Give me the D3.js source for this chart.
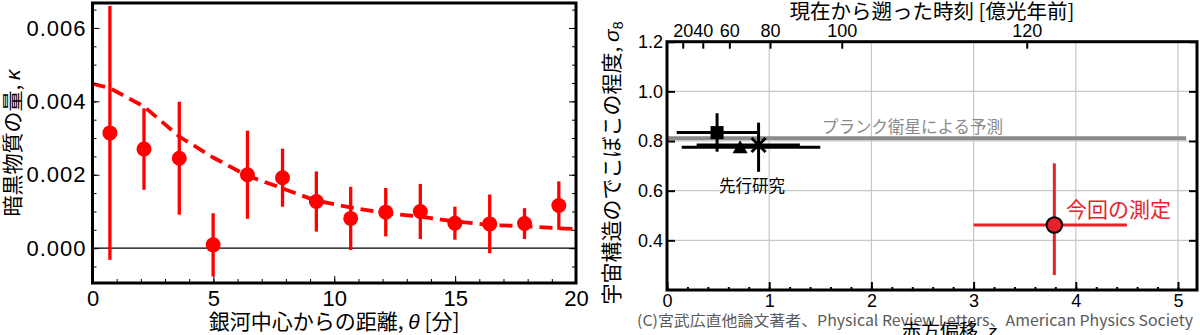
<!DOCTYPE html>
<html>
<head>
<meta charset="utf-8">
<script src="https://cdn.jsdelivr.net/npm/d3@7"></script>
<style>
  body { margin: 0; background: #fff; }
  svg { display: block; }
  .cjk { font-family: "Noto Sans CJK JP", sans-serif; }
  .num { font-family: "Liberation Sans", Arial, sans-serif; }
  .axis path.domain { display: none; }
  .axis line { stroke: #000; }
</style>
</head>
<body>
<svg id="chart" width="1200" height="335"></svg>
<script>
// ---- Left panel: convergence profile around galaxies ----
const thetaArcmin = [0.72, 2.13, 3.59, 4.99, 6.41, 7.86, 9.26, 10.68, 12.13, 13.56, 14.99, 16.43, 17.87, 19.29];
const kappaObs    = [0.00314, 0.00270, 0.00245, 0.00009, 0.00200, 0.00192, 0.00127, 0.00081, 0.00098, 0.00100, 0.00068, 0.00066, 0.00067, 0.00116];
const kappaErr    = [0.00346, 0.00111, 0.00154, 0.00086, 0.00120, 0.00079, 0.00082, 0.00086, 0.00066, 0.00075, 0.00045, 0.00080, 0.00042, 0.00066];
const modelTheta  = [0, 0.72, 2.13, 3.59, 4.99, 6.41, 7.86, 9.26, 10.68, 12.13, 13.56, 14.99, 16.43, 17.87, 19.29, 20];
const modelKappa  = [0.00448, 0.00436, 0.00386, 0.00304, 0.00247, 0.00197, 0.00163, 0.00129, 0.00111, 0.00095, 0.00086, 0.00073, 0.00063, 0.00060, 0.00054, 0.00052];
const thetaTicks  = [0, 5, 10, 15, 20];
const kappaTicks  = [0, 0.002, 0.004, 0.006];

// ---- Right panel: sigma_8 versus redshift ----
const priorShapes   = ["square", "triangle", "cross"];
const priorZ        = [0.49, 0.715, 0.896];
const priorZLo      = [0.095, 0.144, 0.29];
const priorZHi      = [0.89, 1.50, 1.30];
const priorSigma    = [0.834, 0.775, 0.784];
const priorSigmaLo  = [0.757, null, 0.676];
const priorSigmaHi  = [0.912, null, 0.874];
const thisZ         = [3.79];
const thisZRange    = [3.0, 4.5];
const thisSigma     = [0.462];
const thisSigmaRange = [0.26, 0.71];
const planckSigma8  = 0.811;
const planckZRange  = [0, 5.08];
const lookbackLabels = [20, 40, 60, 80, 100, 120];
const lookbackZ      = [0.154, 0.35, 0.61, 1.008, 1.71, 3.52];
const zTicks         = [0, 1, 2, 3, 4, 5];
const sigmaTicks     = [0.4, 0.6, 0.8, 1.0, 1.2];

const svg = d3.select("#chart");
const RED = "#ff0000";

// ================= Left panel =================
const L = { left: 92.5, right: 576, top: 3, bottom: 283 };
const xL = d3.scaleLinear().domain([0, 20]).range([L.left, L.right]);
const yL = d3.scaleLinear().domain([-0.00095, 0.00668]).range([L.bottom, L.top]);
const gL = svg.append("g");

// zero line
gL.append("line")
  .attr("x1", xL(0)).attr("x2", xL(20))
  .attr("y1", yL(0)).attr("y2", yL(0))
  .attr("stroke", "#000").attr("stroke-width", 1.2);

// model curve
gL.append("path")
  .datum(modelTheta.map((t, i) => [t, modelKappa[i]]))
  .attr("d", d3.line().x(d => xL(d[0])).y(d => yL(d[1])))
  .attr("fill", "none").attr("stroke", RED)
  .attr("stroke-width", 3.8).attr("stroke-dasharray", "13,7");

// error bars and points
const pts = thetaArcmin.map((t, i) => ({ t, k: kappaObs[i], e: kappaErr[i] }));
gL.selectAll("line.err").data(pts).join("line")
  .attr("class", "err")
  .attr("x1", d => xL(d.t)).attr("x2", d => xL(d.t))
  .attr("y1", d => yL(d.k - d.e)).attr("y2", d => yL(d.k + d.e))
  .attr("stroke", RED).attr("stroke-width", 3.3);
gL.selectAll("circle.pt").data(pts).join("circle")
  .attr("class", "pt")
  .attr("cx", d => xL(d.t)).attr("cy", d => yL(d.k)).attr("r", 7.5)
  .attr("fill", RED);

// axes (ticks pointing inward)
const kMinor = d3.range(-1, 14).map(i => i * 0.0005);
const tMinor = d3.range(0, 21);
gL.append("g").attr("class", "axis").attr("transform", `translate(0,${L.bottom})`)
  .call(d3.axisBottom(xL).tickValues(tMinor).tickSize(-4).tickFormat(""));
gL.append("g").attr("class", "axis num").attr("transform", `translate(0,${L.bottom})`)
  .call(d3.axisBottom(xL).tickValues(thetaTicks).tickSize(-7).tickPadding(7).tickFormat(d3.format("d")))
  .call(g => g.selectAll("text").attr("font-size", 22).attr("fill", "#000").attr("font-family", "Liberation Sans"));
gL.append("g").attr("class", "axis").attr("transform", `translate(${L.left},0)`)
  .call(d3.axisLeft(yL).tickValues(kMinor).tickSize(-4).tickFormat(""));
gL.append("g").attr("class", "axis num").attr("transform", `translate(${L.left},0)`)
  .call(d3.axisLeft(yL).tickValues(kappaTicks).tickSize(-7).tickPadding(6).tickFormat(d3.format(".3f")))
  .call(g => g.selectAll("text").attr("font-size", 22).attr("fill", "#000")
    .attr("letter-spacing", 1).attr("font-family", "Liberation Sans"));
gL.append("g").attr("class", "axis").attr("transform", `translate(${L.right},0)`)
  .call(d3.axisRight(yL).tickValues(kMinor).tickSize(-4).tickFormat(""));
gL.append("g").attr("class", "axis").attr("transform", `translate(${L.right},0)`)
  .call(d3.axisRight(yL).tickValues(kappaTicks).tickSize(-7).tickFormat(""));

// frame
gL.append("rect")
  .attr("x", L.left).attr("y", L.top)
  .attr("width", L.right - L.left).attr("height", L.bottom - L.top)
  .attr("fill", "none").attr("stroke", "#000").attr("stroke-width", 3);

// axis titles
const xtL = gL.append("text").attr("class", "cjk")
  .attr("x", (L.left + L.right) / 2).attr("y", 329)
  .attr("text-anchor", "middle").attr("font-size", 21);
xtL.append("tspan").text("銀河中心からの距離, ");
xtL.append("tspan").attr("font-style", "italic").attr("font-family", "Liberation Sans").text("θ");
xtL.append("tspan").text(" [分]");

const ytL = gL.append("text").attr("class", "cjk")
  .attr("transform", `translate(20,${(L.top + L.bottom) / 2}) rotate(-90)`)
  .attr("text-anchor", "middle").attr("font-size", 21);
ytL.append("tspan").text("暗黒物質の量, ");
ytL.append("tspan").attr("font-style", "italic").attr("font-family", "Liberation Sans").text("κ");

// ================= Right panel =================
const R = { left: 667, right: 1197, top: 41.7, bottom: 290 };
const xR = d3.scaleLinear().domain([0, 5.186]).range([R.left, R.right]);
const yR = d3.scaleLinear().domain([0.2, 1.2]).range([R.bottom, R.top]);
const gR = svg.append("g");

// grid
gR.selectAll("line.vgrid").data(zTicks.filter(z => z > 0)).join("line")
  .attr("class", "vgrid")
  .attr("x1", d => xR(d)).attr("x2", d => xR(d))
  .attr("y1", R.top).attr("y2", R.bottom)
  .attr("stroke", "#c8c8c8").attr("stroke-width", 1.2);
gR.selectAll("line.hgrid").data(sigmaTicks.filter(s => s < 1.2)).join("line")
  .attr("class", "hgrid")
  .attr("x1", R.left).attr("x2", R.right)
  .attr("y1", d => yR(d)).attr("y2", d => yR(d))
  .attr("stroke", "#c8c8c8").attr("stroke-width", 1.2);

// Planck prediction
gR.append("line")
  .attr("x1", xR(planckZRange[0])).attr("x2", xR(planckZRange[1]))
  .attr("y1", yR(planckSigma8)).attr("y2", yR(planckSigma8))
  .attr("stroke", "#8a8a8a").attr("stroke-width", 4);
gR.append("text").attr("class", "cjk")
  .attr("x", 822).attr("y", yR(planckSigma8) - 5)
  .attr("font-size", 16.5).attr("fill", "#8a8a8a")
  .text("プランク衛星による予測");

// previous measurements
const prior = priorShapes.map((s, i) => ({
  s, z: priorZ[i], zlo: priorZLo[i], zhi: priorZHi[i],
  v: priorSigma[i], vlo: priorSigmaLo[i], vhi: priorSigmaHi[i]
}));
gR.selectAll("line.pzerr").data(prior).join("line")
  .attr("class", "pzerr")
  .attr("x1", d => xR(d.zlo)).attr("x2", d => xR(d.zhi))
  .attr("y1", d => yR(d.v)).attr("y2", d => yR(d.v))
  .attr("stroke", "#000").attr("stroke-width", 3);
gR.selectAll("line.pserr").data(prior.filter(d => d.vlo !== null)).join("line")
  .attr("class", "pserr")
  .attr("x1", d => xR(d.z)).attr("x2", d => xR(d.z))
  .attr("y1", d => yR(d.vlo)).attr("y2", d => yR(d.vhi))
  .attr("stroke", "#000").attr("stroke-width", 3);
prior.forEach(d => {
  const cx = xR(d.z), cy = yR(d.v);
  if (d.s === "square") {
    gR.append("rect").attr("x", cx - 6.5).attr("y", cy - 6.5)
      .attr("width", 13).attr("height", 13).attr("fill", "#000");
  } else if (d.s === "triangle") {
    gR.append("path")
      .attr("d", `M${cx},${cy - 7}L${cx + 7.5},${cy + 6}L${cx - 7.5},${cy + 6}Z`)
      .attr("fill", "#000");
  } else {
    gR.append("path")
      .attr("d", `M${cx - 7},${cy - 7}L${cx + 7},${cy + 7}M${cx + 7},${cy - 7}L${cx - 7},${cy + 7}`)
      .attr("stroke", "#000").attr("stroke-width", 3);
  }
});
gR.append("text").attr("class", "cjk")
  .attr("x", 752).attr("y", 192)
  .attr("text-anchor", "middle").attr("font-size", 16.5).attr("fill", "#000")
  .text("先行研究");

// this measurement
const RED2 = "#e8202a";
gR.append("line")
  .attr("x1", xR(thisZRange[0])).attr("x2", xR(thisZRange[1]))
  .attr("y1", yR(thisSigma[0])).attr("y2", yR(thisSigma[0]))
  .attr("stroke", RED2).attr("stroke-width", 3);
gR.append("line")
  .attr("x1", xR(thisZ[0])).attr("x2", xR(thisZ[0]))
  .attr("y1", yR(thisSigmaRange[0])).attr("y2", yR(thisSigmaRange[1]))
  .attr("stroke", RED2).attr("stroke-width", 3);
gR.append("circle")
  .attr("cx", xR(thisZ[0])).attr("cy", yR(thisSigma[0])).attr("r", 7.8)
  .attr("fill", RED2).attr("stroke", "#000").attr("stroke-width", 2);
gR.append("text").attr("class", "cjk")
  .attr("x", 1066).attr("y", 217)
  .attr("font-size", 21).attr("fill", RED2)
  .text("今回の測定");

// axes
const zMinor = d3.range(0, 26).map(i => i * 0.2);
gR.append("g").attr("class", "axis").attr("transform", `translate(0,${R.bottom})`)
  .call(d3.axisBottom(xR).tickValues(zMinor).tickSize(-3).tickFormat(""));
gR.append("g").attr("class", "axis").attr("transform", `translate(0,${R.bottom})`)
  .call(d3.axisBottom(xR).tickValues(zTicks).tickSize(-8).tickPadding(4).tickFormat(d3.format("d")))
  .call(g => g.selectAll("text").attr("font-size", 18).attr("fill", "#000").attr("font-family", "Liberation Sans"));
gR.append("g").attr("class", "axis").attr("transform", `translate(${R.left},0)`)
  .call(d3.axisLeft(yR).tickValues(sigmaTicks).tickSize(-8).tickPadding(4).tickFormat(d3.format(".1f")))
  .call(g => g.selectAll("text").attr("font-size", 18).attr("fill", "#000").attr("font-family", "Liberation Sans"));
gR.append("g").attr("class", "axis").attr("transform", `translate(${R.right},0)`)
  .call(d3.axisRight(yR).tickValues(sigmaTicks).tickSize(-8).tickFormat(""));
gR.append("g").attr("class", "axis").attr("transform", `translate(0,${R.top})`)
  .call(d3.axisTop(xR).tickValues(lookbackZ).tickSize(-7).tickPadding(5)
    .tickFormat((d, i) => lookbackLabels[i]))
  .call(g => g.selectAll("text").attr("font-size", 18).attr("fill", "#000").attr("font-family", "Liberation Sans"));
gR.selectAll(".axis line").attr("stroke-width", 2);

// frame
gR.append("rect")
  .attr("x", R.left).attr("y", R.top)
  .attr("width", R.right - R.left).attr("height", R.bottom - R.top)
  .attr("fill", "none").attr("stroke", "#000").attr("stroke-width", 3);

// titles
gR.append("text").attr("class", "cjk")
  .attr("x", 932).attr("y", 19)
  .attr("text-anchor", "middle").attr("font-size", 20.5).attr("fill", "#000")
  .text("現在から遡った時刻 [億光年前]");

const ytR = gR.append("text").attr("class", "cjk")
  .attr("transform", `translate(619,163) rotate(-90)`)
  .attr("text-anchor", "middle").attr("font-size", 21);
ytR.append("tspan").text("宇宙構造のでこぼこの程度, ");
ytR.append("tspan").attr("font-style", "italic").attr("font-family", "Liberation Sans").text("σ");
ytR.append("tspan").attr("font-family", "Liberation Sans").attr("font-size", 14).attr("dy", 4).text("8");

// credit line, with the x-axis title drawn over it
svg.append("text").attr("class", "cjk")
  .attr("x", 637).attr("y", 326)
  .attr("font-size", 15).attr("fill", "#5a5a5a")
  .attr("stroke", "#fff").attr("stroke-width", 2).attr("paint-order", "stroke")
  .attr("textLength", 556).attr("lengthAdjust", "spacingAndGlyphs")
  .text("(C)宮武広直他論文著者、Physical Review Letters、American Physics Society");

const xtR = svg.append("text").attr("class", "cjk")
  .attr("x", 902).attr("y", 338).attr("font-size", 19).attr("fill", "#000");
xtR.append("tspan").text("赤方偏移, ");
xtR.append("tspan").attr("font-style", "italic").attr("font-family", "Liberation Sans").text("z");
</script>
</body>
</html>
